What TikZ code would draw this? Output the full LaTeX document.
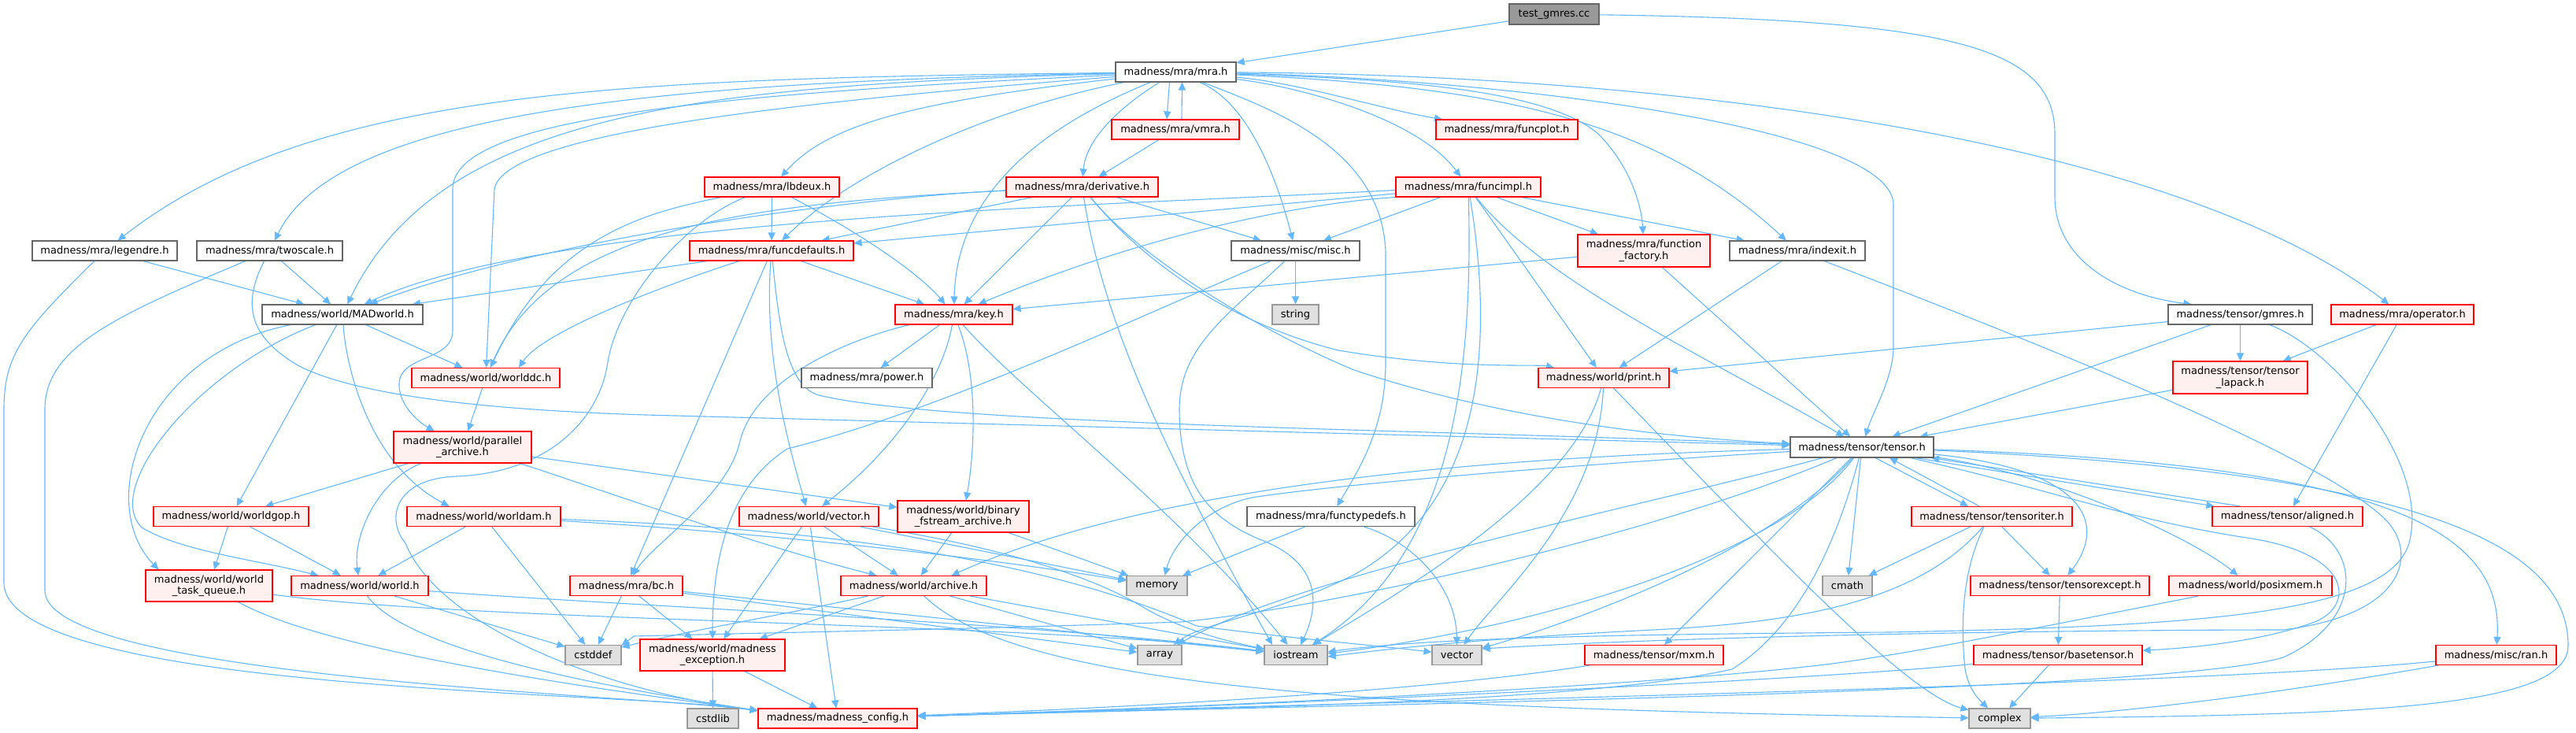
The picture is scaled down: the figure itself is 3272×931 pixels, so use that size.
\documentclass[tikz,border=0pt]{standalone}
\usepackage{fontspec}
\setmainfont{DejaVu Sans}
\usetikzlibrary{arrows.meta}
\definecolor{edgec}{RGB}{99,184,255}
\definecolor{rfill}{RGB}{255,240,240}
\definecolor{gfill}{RGB}{224,224,224}
\definecolor{gline}{RGB}{153,153,153}
\definecolor{wline}{RGB}{102,102,102}
\definecolor{rline}{RGB}{255,0,0}
\definecolor{tfill}{RGB}{153,153,153}
\pgfdeclarelayer{bg}
\pgfsetlayers{bg,main}
\tikzset{
 nb/.style={rectangle, inner sep=0pt, line width=1.1pt, minimum height=25pt, align=center, font=\fontsize{13}{14.5}\selectfont, text=black},
 wbox/.style={nb, fill=white, draw=wline},
 rbox/.style={nb, fill=rfill, draw=rline},
 gbox/.style={nb, fill=gfill, draw=gline},
 tbox/.style={nb, fill=tfill, draw=wline},
 e/.style={draw=edgec, line width=1.1pt, -{Triangle[length=10pt,width=9pt]}},
}
\begin{document}
\begin{tikzpicture}[x=1pt,y=-1pt]
\useasboundingbox (0,0) rectangle (3272,931);
% nodes
\node[tbox, minimum width=114, minimum height=26] (test) at (1974,18) {test\_gmres.cc};
\node[wbox, minimum width=153] (mra) at (1493.5,91.5) {madness/mra/mra.h};
\node[wbox, minimum width=184] (legendre) at (133,318.5) {madness/mra/legendre.h};
\node[wbox, minimum width=185] (twoscale) at (342.5,318.5) {madness/mra/twoscale.h};
\node[wbox, minimum width=204] (madworld) at (435,399.5) {madness/world/MADworld.h};
\node[rbox, minimum width=188] (worlddc) at (617,480) {madness/world/worlddc.h};
\node[rbox, minimum width=175, minimum height=40] (parallel) at (587.5,568) {madness/world/parallel\\\_archive.h};
\node[rbox, minimum width=197] (worldgop) at (293.5,656) {madness/world/worldgop.h};
\node[rbox, minimum width=195] (worldam) at (614.5,656) {madness/world/worldam.h};
\node[rbox, minimum width=161, minimum height=40] (wtq) at (265.5,744) {madness/world/world\\\_task\_queue.h};
\node[rbox, minimum width=174] (world) at (457,744) {madness/world/world.h};
\node[gbox, minimum width=71] (cstddef) at (753.5,832) {cstddef};
\node[rbox, minimum width=143] (bc) at (795.5,744) {madness/mra/bc.h};
\node[rbox, minimum width=162] (vmra) at (1493,164.5) {madness/mra/vmra.h};
\node[rbox, minimum width=171] (lbdeux) at (980.5,237.5) {madness/mra/lbdeux.h};
\node[rbox, minimum width=193] (derivative) at (1374.5,237.5) {madness/mra/derivative.h};
\node[rbox, minimum width=208] (funcdefaults) at (980,318.5) {madness/mra/funcdefaults.h};
\node[rbox, minimum width=149] (key) at (1211.5,399.5) {madness/mra/key.h};
\node[wbox, minimum width=163] (misc) at (1645.5,318.5) {madness/misc/misc.h};
\node[wbox, minimum width=166] (power) at (1101,480) {madness/mra/power.h};
\node[rbox, minimum width=177] (vectorh) at (1027.5,656) {madness/world/vector.h};
\node[rbox, minimum width=167, minimum height=40] (binary) at (1223.5,656) {madness/world/binary\\\_fstream\_archive.h};
\node[rbox, minimum width=185] (archive) at (1160.5,744) {madness/world/archive.h};
\node[gbox, minimum width=77] (memory) at (1469.5,744) {memory};
\node[rbox, minimum width=184, minimum height=40] (mexc) at (905,832) {madness/world/madness\\\_exception.h};
\node[gbox, minimum width=56] (array) at (1473,832) {array};
\node[gbox, minimum width=65] (cstdlib) at (905.5,912.5) {cstdlib};
\node[rbox, minimum width=202] (config) at (1064,912.5) {madness/madness\_config.h};
\node[gbox, minimum width=80] (iostream) at (1646,832) {iostream};
\node[rbox, minimum width=180] (funcplot) at (1914,164.5) {madness/mra/funcplot.h};
\node[rbox, minimum width=184] (funcimpl) at (1865,237.5) {madness/mra/funcimpl.h};
\node[rbox, minimum width=168, minimum height=41] (ffactory) at (2088,318.5) {madness/mra/function\\\_factory.h};
\node[wbox, minimum width=172] (indexit) at (2283,318.5) {madness/mra/indexit.h};
\node[gbox, minimum width=59] (string) at (1645.5,399.5) {string};
\node[rbox, minimum width=166] (print) at (2037,480) {madness/world/print.h};
\node[wbox, minimum width=182, minimum height=26] (tensor) at (2365,568) {madness/tensor/tensor.h};
\node[wbox, minimum width=213] (functypedefs) at (1690.5,656) {madness/mra/functypedefs.h};
\node[gbox, minimum width=63] (cmath) at (2346.5,744) {cmath};
\node[gbox, minimum width=63] (stdvector) at (1850.5,832) {vector};
\node[rbox, minimum width=176] (mxm) at (2101,832) {madness/tensor/mxm.h};
\node[wbox, minimum width=183] (gmres) at (2845.5,399.5) {madness/tensor/gmres.h};
\node[rbox, minimum width=181] (operator) at (3051.5,399.5) {madness/mra/operator.h};
\node[rbox, minimum width=171, minimum height=41] (lapack) at (2845.5,479.5) {madness/tensor/tensor\\\_lapack.h};
\node[rbox, minimum width=204] (tensoriter) at (2530,656) {madness/tensor/tensoriter.h};
\node[rbox, minimum width=191] (aligned) at (2905.5,656) {madness/tensor/aligned.h};
\node[rbox, minimum width=227] (tensorexcept) at (2616.5,744) {madness/tensor/tensorexcept.h};
\node[rbox, minimum width=207] (posixmem) at (2858.5,744) {madness/world/posixmem.h};
\node[rbox, minimum width=214] (basetensor) at (2614,832) {madness/tensor/basetensor.h};
\node[rbox, minimum width=153] (ran) at (3170.5,832) {madness/misc/ran.h};
\node[gbox, minimum width=78] (complex) at (2540,912.5) {complex};

\begin{pgfonlayer}{bg}
\fill[white] (0,0) rectangle (3272,931);
% test
\draw[e] (test) -- (mra);
\draw[e] (test) .. controls (2480,25) and (2610,60) .. (2610,170) -- (2610,250) .. controls (2610,330) and (2690,375) .. ([xshift=-62]gmres.north);
% mra
\draw[e] (mra) .. controls (800,100) and (400,110) .. (legendre);
\draw[e] (mra) .. controls (850,104) and (430,140) .. (twoscale);
\draw[e] (mra) .. controls (900,108) and (560,140) .. (madworld);
\draw[e] (mra) .. controls (900,120) and (575,150) .. (575,240) -- (575,420) .. controls (575,460) and (505,450) .. (507,490) .. controls (508,515) and (530,535) .. (parallel);
\draw[e] (mra) .. controls (1000,130) and (640,170) .. (628,240) -- (worlddc);
\draw[e] (mra) .. controls (1150,130) and (1050,160) .. (lbdeux);
\draw[e] (mra) .. controls (1250,140) and (1080,220) .. (funcdefaults);
\draw[e] (mra) .. controls (1300,170) and (1215,260) .. (key);
\draw[e] (mra) .. controls (1400,150) and (1378,190) .. (derivative);
\draw[e] ([xshift=-8]mra.south) -- ([xshift=-11]vmra.north);
\draw[e] ([xshift=8]vmra.north) -- ([xshift=8]mra.south);
\draw[e] ([xshift=30]mra.south) .. controls (1575,125) and (1615,200) .. (misc);
\draw[e] (mra) .. controls (1620,140) and (1755,190) .. (1760,320) -- (1760,460) .. controls (1760,540) and (1730,590) .. (functypedefs);
\draw[e] (mra) .. controls (1750,100) and (1960,110) .. (2030,170) .. controls (2070,210) and (2085,260) .. (ffactory);
\draw[e] (mra) .. controls (1900,110) and (2100,150) .. (indexit);
\draw[e] (mra) .. controls (2100,95) and (2750,170) .. (operator);
\draw[e] (mra) .. controls (1900,100) and (2405,160) .. (2405,260) -- (2405,440) .. controls (2405,480) and (2380,520) .. (tensor);
\draw[e] (mra) .. controls (1650,105) and (1760,140) .. (funcplot);
\draw[e] (mra) .. controls (1650,110) and (1800,150) .. (funcimpl);
% vmra
\draw[e] (vmra) -- (derivative);
% legendre
\draw[e] (legendre) -- (madworld);
\draw[e] (legendre) .. controls (30,420) and (5,450) .. (5,520) -- (5,740) .. controls (5,880) and (800,878) .. ([yshift=10]config.west);
% twoscale
\draw[e] (twoscale) -- (madworld);
\draw[e] (twoscale) .. controls (150,400) and (57,440) .. (57,520) -- (57,750) .. controls (57,860) and (800,882) .. ([yshift=10]config.west);
\draw[e] (twoscale) .. controls (305,390) and (320,430) .. (380,465) .. controls (450,500) and (600,520) .. (820,527) -- (tensor);
% MADworld
\draw[e] (madworld) -- (worlddc);
\draw[e] (madworld) .. controls (180,450) and (120,640) .. ([xshift=-64]wtq.north);
\draw[e] (madworld) .. controls (250,470) and (130,620) .. (180,670) .. controls (230,700) and (320,710) .. (world);
\draw[e] (madworld) -- (worldgop);
\draw[e] (madworld) .. controls (440,470) and (470,590) .. ([xshift=-44]worldam.north);
% worlddc
\draw[e] (worlddc) -- (parallel);
% parallel
\draw[e] (parallel) -- (worldgop);
\draw[e] (parallel) .. controls (480,610) and (448,680) .. (world);
\draw[e] (parallel) -- (binary);
\draw[e] (parallel) .. controls (700,600) and (950,690) .. ([xshift=-47]archive.north);
% worldgop
\draw[e] (worldgop) -- (wtq);
\draw[e] (worldgop) -- (world);
% worldam
\draw[e] (worldam) -- (world);
\draw[e] (worldam) -- (cstddef);
\draw[e] (worldam) .. controls (900,672) and (1200,700) .. (memory);
\draw[e] (worldam) .. controls (1000,670) and (1300,700) .. (1520,795) .. controls (1650,812) and (1750,820) .. (stdvector);
% wtq
\draw[e] (wtq) .. controls (420,830) and (780,878) .. ([yshift=10]config.west);
\draw[e] (wtq) .. controls (600,790) and (1300,790) .. (iostream);
% world
\draw[e] (world) .. controls (520,830) and (790,876) .. ([yshift=10]config.west);
\draw[e] (world) -- (cstddef);
\draw[e] (world) .. controls (800,770) and (1300,790) .. (iostream);
% lbdeux
\draw[e] (lbdeux) -- (funcdefaults);
\draw[e] (lbdeux) .. controls (1100,300) and (1170,350) .. (key);
\draw[e] (lbdeux) .. controls (820,270) and (700,300) .. (worlddc);
\draw[e] (lbdeux) .. controls (870,280) and (785,380) .. (772,460) .. controls (762,530) and (700,600) .. (580,605) .. controls (500,608) and (490,660) .. (515,690) .. controls (560,800) and (780,880) .. ([yshift=10]config.west);
% derivative
\draw[e] (derivative) -- (funcdefaults);
\draw[e] (derivative) -- (key);
\draw[e] (derivative) .. controls (1100,250) and (700,300) .. (madworld);
\draw[e] (derivative) .. controls (950,258) and (700,290) .. (worlddc);
\draw[e] (derivative) -- (misc);
\draw[e] (derivative) .. controls (1400,400) and (1470,560) .. ([xshift=-30]iostream.north);
\draw[e] (derivative) .. controls (1450,330) and (1560,410) .. (1700,445) .. controls (1850,470) and (1950,462) .. (print);
\draw[e] (derivative) .. controls (1450,330) and (1600,420) .. (1720,470) .. controls (1900,530) and (2100,555) .. (tensor);
% funcdefaults
\draw[e] (funcdefaults) -- (key);
\draw[e] ([xshift=23]funcdefaults.south west) -- (madworld);
\draw[e] (funcdefaults) .. controls (850,360) and (690,420) .. ([xshift=42]worlddc.north);
\draw[e] (funcdefaults) -- (bc);
\draw[e] (funcdefaults) .. controls (970,450) and (1000,560) .. (vectorh);
\draw[e] (funcdefaults) .. controls (990,420) and (1000,490) .. (1040,502) .. controls (1200,540) and (1800,545) .. (tensor);
% key
\draw[e] (key) -- (power);
\draw[e] (key) .. controls (1200,470) and (1150,560) .. (vectorh);
\draw[e] (key) .. controls (1240,470) and (1240,560) .. (binary);
\draw[e] (key) .. controls (1080,430) and (960,480) .. (940,560) .. controls (925,630) and (830,690) .. (bc);
\draw[e] (key) .. controls (1300,500) and (1500,650) .. (iostream);
% misc
\draw[e] (misc) -- (string);
\draw[e] (misc) .. controls (1450,400) and (1200,520) .. (1000,570) .. controls (930,615) and (905,700) .. (mexc);
\draw[e] (misc) .. controls (1560,400) and (1498,440) .. (1498,520) .. controls (1498,620) and (1540,660) .. (1600,685) .. controls (1680,715) and (1675,770) .. (iostream);
% funcimpl
\draw[e] (funcimpl) -- (funcdefaults);
\draw[e] (funcimpl.south west) .. controls (1650,258) and (1450,300) .. (key);
\draw[e] ([yshift=-4]funcimpl.west) .. controls (1400,262) and (700,275) .. (madworld);
\draw[e] (funcimpl) -- (misc);
\draw[e] (funcimpl) -- (ffactory);
\draw[e] (funcimpl) -- (indexit);
\draw[e] (funcimpl) -- (print);
\draw[e] (funcimpl) .. controls (1960,360) and (2200,470) .. (tensor);
\draw[e] (funcimpl) .. controls (1870,450) and (1855,700) .. (iostream);
\draw[e] (funcimpl) .. controls (1900,450) and (1880,640) .. (1720,730) .. controls (1620,780) and (1530,790) .. (array);
% function_factory
\draw[e] (ffactory) -- (key);
\draw[e] (ffactory) -- (tensor);
% indexit
\draw[e] (indexit) -- (print);
\draw[e] (indexit) .. controls (2600,440) and (2950,580) .. (3030,660) .. controls (3070,700) and (3060,780) .. (2900,800) .. controls (2700,800) and (2200,805) .. ([yshift=8]stdvector.east);
% gmres
\draw[e] (gmres) -- (print);
\draw[e] (gmres) -- (tensor);
\draw[e] (gmres) -- (lapack);
\draw[e] (gmres) .. controls (2960,440) and (3080,580) .. (3062,680) .. controls (3050,780) and (2800,795) .. (2400,803) .. controls (2000,806) and (1800,812) .. ([yshift=4]iostream.east);
% operator
\draw[e] (operator) -- (lapack);
\draw[e] (operator) -- (aligned);
% lapack
\draw[e] (lapack) -- (tensor);
% functypedefs
\draw[e] (functypedefs) -- (memory);
\draw[e] (functypedefs) .. controls (1800,690) and (1850,750) .. (stdvector);
% print
\draw[e] (print) .. controls (2000,620) and (1800,740) .. (iostream);
\draw[e] (print) .. controls (2030,650) and (1900,760) .. (stdvector);
\draw[e] (print) .. controls (2250,700) and (2420,880) .. (complex);
% tensor
\draw[e] (tensor) .. controls (2000,578) and (1500,600) .. ([xshift=48]archive.north);
\draw[e] (tensor) .. controls (2000,590) and (1700,615) .. (1590,632) .. controls (1530,645) and (1490,690) .. ([xshift=10]memory.north);
\draw[e] (tensor) .. controls (2100,640) and (1650,730) .. (array);
\draw[e] (tensor) .. controls (2100,680) and (1700,770) .. (1500,790) .. controls (1200,800) and (1000,803) .. (805,808) -- ([yshift=12]cstddef.east);
\draw[e] (tensor) .. controls (2250,700) and (2000,790) .. (stdvector);
\draw[e] (tensor) .. controls (2250,720) and (1900,805) .. ([yshift=2]iostream.east);
\draw[e] (tensor) -- (mxm);
\draw[e] (tensor) -- (cmath);
\draw[e] (tensor) .. controls (2330,700) and (2280,800) .. (2200,850) .. controls (2000,895) and (1500,900) .. (config);
\draw[e] ([xshift=17]tensor.south) -- ([xshift=-30]tensoriter.north);
\draw[e] ([xshift=-16]tensoriter.north) -- ([xshift=35]tensor.south);
\draw[e] ([xshift=68]tensor.south) -- ([xshift=-93]aligned.north);
\draw[e] ([xshift=-60]aligned.north) -- ([xshift=88]tensor.south);
\draw[e] (tensor) .. controls (2640,595) and (2680,660) .. (tensorexcept);
\draw[e] (tensor) .. controls (2600,600) and (2780,680) .. (posixmem);
\draw[e] (tensor) .. controls (2600,620) and (2700,660) .. (2860,684) .. controls (2990,705) and (2990,770) .. (2940,790) .. controls (2880,812) and (2800,822) .. (basetensor);
\draw[e] (tensor) .. controls (3050,590) and (3180,680) .. (ran);
\draw[e] (tensor) .. controls (3100,600) and (3262,700) .. (3262,820) .. controls (3262,900) and (3000,908) .. (complex);
% tensoriter
\draw[e] (tensoriter) -- (tensorexcept);
\draw[e] ([xshift=-10]tensoriter.south) .. controls (2495,720) and (2490,780) .. (2495,840) .. controls (2497,870) and (2510,885) .. ([xshift=-15]complex.north);
\draw[e] (tensoriter) -- (cmath);
\draw[e] (tensoriter) .. controls (2440,760) and (2300,790) .. (2100,800) .. controls (1900,810) and (1780,822) .. ([yshift=-2]iostream.east);
% tensorexcept, basetensor, posixmem, ran, mxm, aligned
\draw[e] (tensorexcept) -- (basetensor);
\draw[e] (basetensor) -- (complex);
\draw[e] (basetensor) .. controls (2300,865) and (1500,900) .. (config);
\draw[e] (posixmem) .. controls (2600,795) and (2450,825) .. (2380,835) .. controls (2200,868) and (1500,900) .. (config);
\draw[e] (ran) .. controls (2900,880) and (2700,905) .. (complex);
\draw[e] (ran) .. controls (2800,870) and (1800,890) .. (config);
\draw[e] (mxm) .. controls (1800,880) and (1400,900) .. (config);
\draw[e] (aligned) .. controls (3000,700) and (3000,790) .. (2900,835) .. controls (2750,880) and (1700,895) .. (config);
% mexc
\draw[e] (mexc) -- (cstdlib);
\draw[e] (mexc) -- (config);
% archive
\draw[e] (archive) -- (mexc);
\draw[e] (archive) .. controls (1000,780) and (880,800) .. ([yshift=10]cstddef.east);
\draw[e] (archive) -- (array);
\draw[e] (archive) -- (iostream);
\draw[e] (archive) .. controls (1300,880) and (1800,900) .. (complex);
% vector.h
\draw[e] (vectorh) -- (mexc);
\draw[e] (vectorh) -- (config);
\draw[e] (vectorh) -- (archive);
\draw[e] (vectorh) -- (memory);
\draw[e] (vectorh) .. controls (1300,700) and (1400,740) .. (1450,770) .. controls (1500,800) and (1560,815) .. (iostream);
% binary
\draw[e] (binary) -- (archive);
\draw[e] (binary) -- (memory);
% bc
\draw[e] (bc) -- (mexc);
\draw[e] (bc) -- (array);
\draw[e] (bc) -- (iostream);
\draw[e] (bc) -- (cstddef);
\end{pgfonlayer}
\end{tikzpicture}
\end{document}
